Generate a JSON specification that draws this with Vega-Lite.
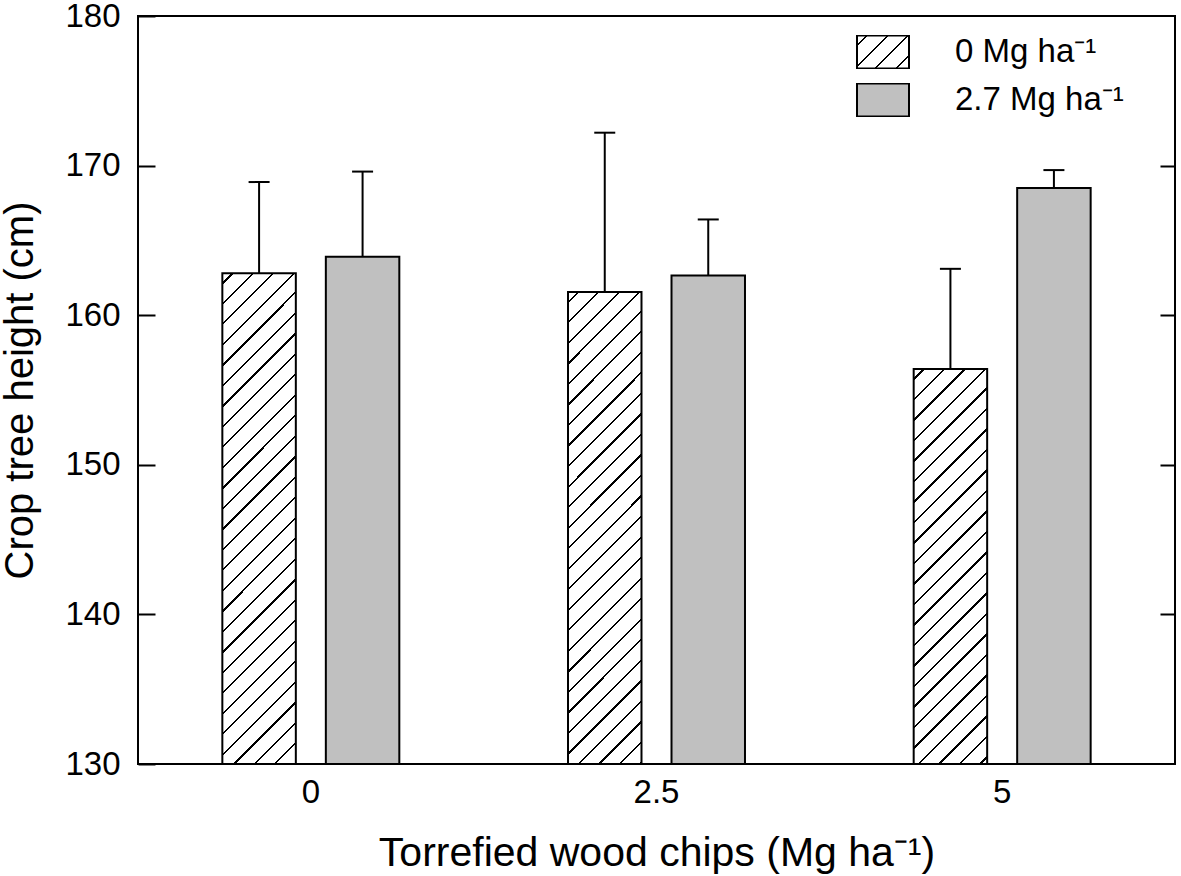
{
  "$schema": "https://vega.github.io/schema/vega-lite/v6.json",
  "width": 1037,
  "height": 748,
  "autosize": "none",
  "padding": {"left": 138, "top": 16, "right": 6, "bottom": 112},
  "background": "white",
  "config": {
    "view": {"stroke": "black", "strokeWidth": 2},
    "font": "Liberation Sans",
    "axis": {"labelFont": "Liberation Sans", "titleFont": "Liberation Sans", "labelColor": "black", "titleColor": "black", "titleFontWeight": "normal", "domain": false, "grid": false, "tickColor": "black", "tickWidth": 2}
  },
  "params": [{"name": "hatch", "value": [
    {"offset":0,"color":"#fff"},
    {"offset":0.0149,"color":"#fff"},{"offset":0.0149,"color":"#000"},{"offset":0.0185,"color":"#000"},{"offset":0.0185,"color":"#fff"},
    {"offset":0.0482,"color":"#fff"},{"offset":0.0482,"color":"#000"},{"offset":0.0518,"color":"#000"},{"offset":0.0518,"color":"#fff"},
    {"offset":0.0815,"color":"#fff"},{"offset":0.0815,"color":"#000"},{"offset":0.0851,"color":"#000"},{"offset":0.0851,"color":"#fff"},
    {"offset":0.1149,"color":"#fff"},{"offset":0.1149,"color":"#000"},{"offset":0.1185,"color":"#000"},{"offset":0.1185,"color":"#fff"},
    {"offset":0.1482,"color":"#fff"},{"offset":0.1482,"color":"#000"},{"offset":0.1518,"color":"#000"},{"offset":0.1518,"color":"#fff"},
    {"offset":0.1815,"color":"#fff"},{"offset":0.1815,"color":"#000"},{"offset":0.1851,"color":"#000"},{"offset":0.1851,"color":"#fff"},
    {"offset":0.2149,"color":"#fff"},{"offset":0.2149,"color":"#000"},{"offset":0.2185,"color":"#000"},{"offset":0.2185,"color":"#fff"},
    {"offset":0.2482,"color":"#fff"},{"offset":0.2482,"color":"#000"},{"offset":0.2518,"color":"#000"},{"offset":0.2518,"color":"#fff"},
    {"offset":0.2815,"color":"#fff"},{"offset":0.2815,"color":"#000"},{"offset":0.2851,"color":"#000"},{"offset":0.2851,"color":"#fff"},
    {"offset":0.3149,"color":"#fff"},{"offset":0.3149,"color":"#000"},{"offset":0.3185,"color":"#000"},{"offset":0.3185,"color":"#fff"},
    {"offset":0.3482,"color":"#fff"},{"offset":0.3482,"color":"#000"},{"offset":0.3518,"color":"#000"},{"offset":0.3518,"color":"#fff"},
    {"offset":0.3815,"color":"#fff"},{"offset":0.3815,"color":"#000"},{"offset":0.3851,"color":"#000"},{"offset":0.3851,"color":"#fff"},
    {"offset":0.4149,"color":"#fff"},{"offset":0.4149,"color":"#000"},{"offset":0.4185,"color":"#000"},{"offset":0.4185,"color":"#fff"},
    {"offset":0.4482,"color":"#fff"},{"offset":0.4482,"color":"#000"},{"offset":0.4518,"color":"#000"},{"offset":0.4518,"color":"#fff"},
    {"offset":0.4815,"color":"#fff"},{"offset":0.4815,"color":"#000"},{"offset":0.4851,"color":"#000"},{"offset":0.4851,"color":"#fff"},
    {"offset":0.5149,"color":"#fff"},{"offset":0.5149,"color":"#000"},{"offset":0.5185,"color":"#000"},{"offset":0.5185,"color":"#fff"},
    {"offset":0.5482,"color":"#fff"},{"offset":0.5482,"color":"#000"},{"offset":0.5518,"color":"#000"},{"offset":0.5518,"color":"#fff"},
    {"offset":0.5815,"color":"#fff"},{"offset":0.5815,"color":"#000"},{"offset":0.5851,"color":"#000"},{"offset":0.5851,"color":"#fff"},
    {"offset":0.6149,"color":"#fff"},{"offset":0.6149,"color":"#000"},{"offset":0.6185,"color":"#000"},{"offset":0.6185,"color":"#fff"},
    {"offset":0.6482,"color":"#fff"},{"offset":0.6482,"color":"#000"},{"offset":0.6518,"color":"#000"},{"offset":0.6518,"color":"#fff"},
    {"offset":0.6815,"color":"#fff"},{"offset":0.6815,"color":"#000"},{"offset":0.6851,"color":"#000"},{"offset":0.6851,"color":"#fff"},
    {"offset":0.7149,"color":"#fff"},{"offset":0.7149,"color":"#000"},{"offset":0.7185,"color":"#000"},{"offset":0.7185,"color":"#fff"},
    {"offset":0.7482,"color":"#fff"},{"offset":0.7482,"color":"#000"},{"offset":0.7518,"color":"#000"},{"offset":0.7518,"color":"#fff"},
    {"offset":0.7815,"color":"#fff"},{"offset":0.7815,"color":"#000"},{"offset":0.7851,"color":"#000"},{"offset":0.7851,"color":"#fff"},
    {"offset":0.8149,"color":"#fff"},{"offset":0.8149,"color":"#000"},{"offset":0.8185,"color":"#000"},{"offset":0.8185,"color":"#fff"},
    {"offset":0.8482,"color":"#fff"},{"offset":0.8482,"color":"#000"},{"offset":0.8518,"color":"#000"},{"offset":0.8518,"color":"#fff"},
    {"offset":0.8815,"color":"#fff"},{"offset":0.8815,"color":"#000"},{"offset":0.8851,"color":"#000"},{"offset":0.8851,"color":"#fff"},
    {"offset":0.9149,"color":"#fff"},{"offset":0.9149,"color":"#000"},{"offset":0.9185,"color":"#000"},{"offset":0.9185,"color":"#fff"},
    {"offset":0.9482,"color":"#fff"},{"offset":0.9482,"color":"#000"},{"offset":0.9518,"color":"#000"},{"offset":0.9518,"color":"#fff"},
    {"offset":0.9815,"color":"#fff"},{"offset":0.9815,"color":"#000"},{"offset":0.9851,"color":"#000"},{"offset":0.9851,"color":"#fff"},
    {"offset":1,"color":"#fff"}
  ]}],
  "data": {"values": [
    {"chips": "0", "level": "0 Mg ha⁻¹", "height": 162.8, "upper": 168.9},
    {"chips": "0", "level": "2.7 Mg ha⁻¹", "height": 163.9, "upper": 169.6},
    {"chips": "2.5", "level": "0 Mg ha⁻¹", "height": 161.55, "upper": 172.2},
    {"chips": "2.5", "level": "2.7 Mg ha⁻¹", "height": 162.65, "upper": 166.4},
    {"chips": "5", "level": "0 Mg ha⁻¹", "height": 156.4, "upper": 163.1},
    {"chips": "5", "level": "2.7 Mg ha⁻¹", "height": 168.5, "upper": 169.7}
  ]},
  "resolve": {"scale": {"y": "independent"}, "axis": {"y": "independent"}},
  "layer": [
    {
      "encoding": {
        "x": {"field": "chips", "type": "nominal", "sort": ["0", "2.5", "5"],
          "scale": {"paddingInner": 0, "paddingOuter": 0},
          "axis": {"title": "Torrefied wood chips (Mg ha⁻¹)", "labelAngle": 0, "ticks": false, "labelPadding": 12, "labelFontSize": 33, "titleFontSize": 41, "titlePadding": 24}},
        "xOffset": {"field": "level", "type": "nominal", "sort": ["0 Mg ha⁻¹", "2.7 Mg ha⁻¹"], "scale": {"paddingInner": 0.29, "paddingOuter": 0.815}}
      },
      "layer": [
        {
          "mark": {"type": "bar", "stroke": "black", "strokeWidth": 2, "fillOpacity": 1},
          "encoding": {
            "y": {"field": "height", "type": "quantitative", "scale": {"domain": [130, 180], "zero": false, "nice": false},
              "axis": {"orient": "left", "values": [130, 140, 150, 160, 170, 180], "tickSize": -17, "labelPadding": 35, "labelFontSize": 33, "title": "Crop tree height (cm)", "titleFontSize": 40, "titlePadding": 24}},
            "y2": {"datum": 130},
            "fill": {
              "condition": [
                {"test": "datum.chips === '0' && datum.level === '0 Mg ha⁻¹'", "value": {"expr": "({gradient:'linear',x1:0,y1:0,x2:0.1836,y2:1.2258,stops:hatch})"}},
                {"test": "datum.chips === '2.5' && datum.level === '0 Mg ha⁻¹'", "value": {"expr": "({gradient:'linear',x1:0,y1:0,x2:0.1988,y2:1.2742,stops:hatch})"}},
                {"test": "datum.chips === '5' && datum.level === '0 Mg ha⁻¹'", "value": {"expr": "({gradient:'linear',x1:0,y1:0,x2:0.2802,y2:1.5052,stops:hatch})"}}
              ],
              "field": "level", "type": "nominal",
              "scale": {"domain": ["0 Mg ha⁻¹", "2.7 Mg ha⁻¹"], "range": [{"expr": "({gradient:'linear',x1:0,y1:0,x2:8.432,y2:5.351,stops:hatch})"}, "#c0c0c0"]},
              "legend": {
                "title": null, "orient": "none", "legendX": 718, "legendY": 19,
                "symbolType": "M-1,-0.635H1V0.635H-1Z", "symbolSize": 2704,
                "symbolStrokeColor": "black", "symbolStrokeWidth": 2, "symbolOpacity": 1,
                "labelFont": "Liberation Sans", "labelFontSize": 33, "labelColor": "black", "labelLimit": 400,
                "labelOffset": 45, "clipHeight": 34, "rowPadding": 14
              }
            }
          }
        },
        {
          "mark": {"type": "rule", "color": "black", "strokeWidth": 2},
          "encoding": {
            "y": {"field": "height", "type": "quantitative"},
            "y2": {"field": "upper"}
          }
        },
        {
          "mark": {"type": "tick", "color": "black", "thickness": 2, "size": 21, "opacity": 1},
          "encoding": {
            "y": {"field": "upper", "type": "quantitative"}
          }
        }
      ]
    },
    {
      "mark": {"type": "tick", "opacity": 0},
      "encoding": {
        "y": {"field": "height", "type": "quantitative", "scale": {"domain": [130, 180], "zero": false, "nice": false},
          "axis": {"orient": "right", "values": [140, 150, 160, 170], "tickSize": -15, "labels": false, "title": null}}
      }
    }
  ]
}
